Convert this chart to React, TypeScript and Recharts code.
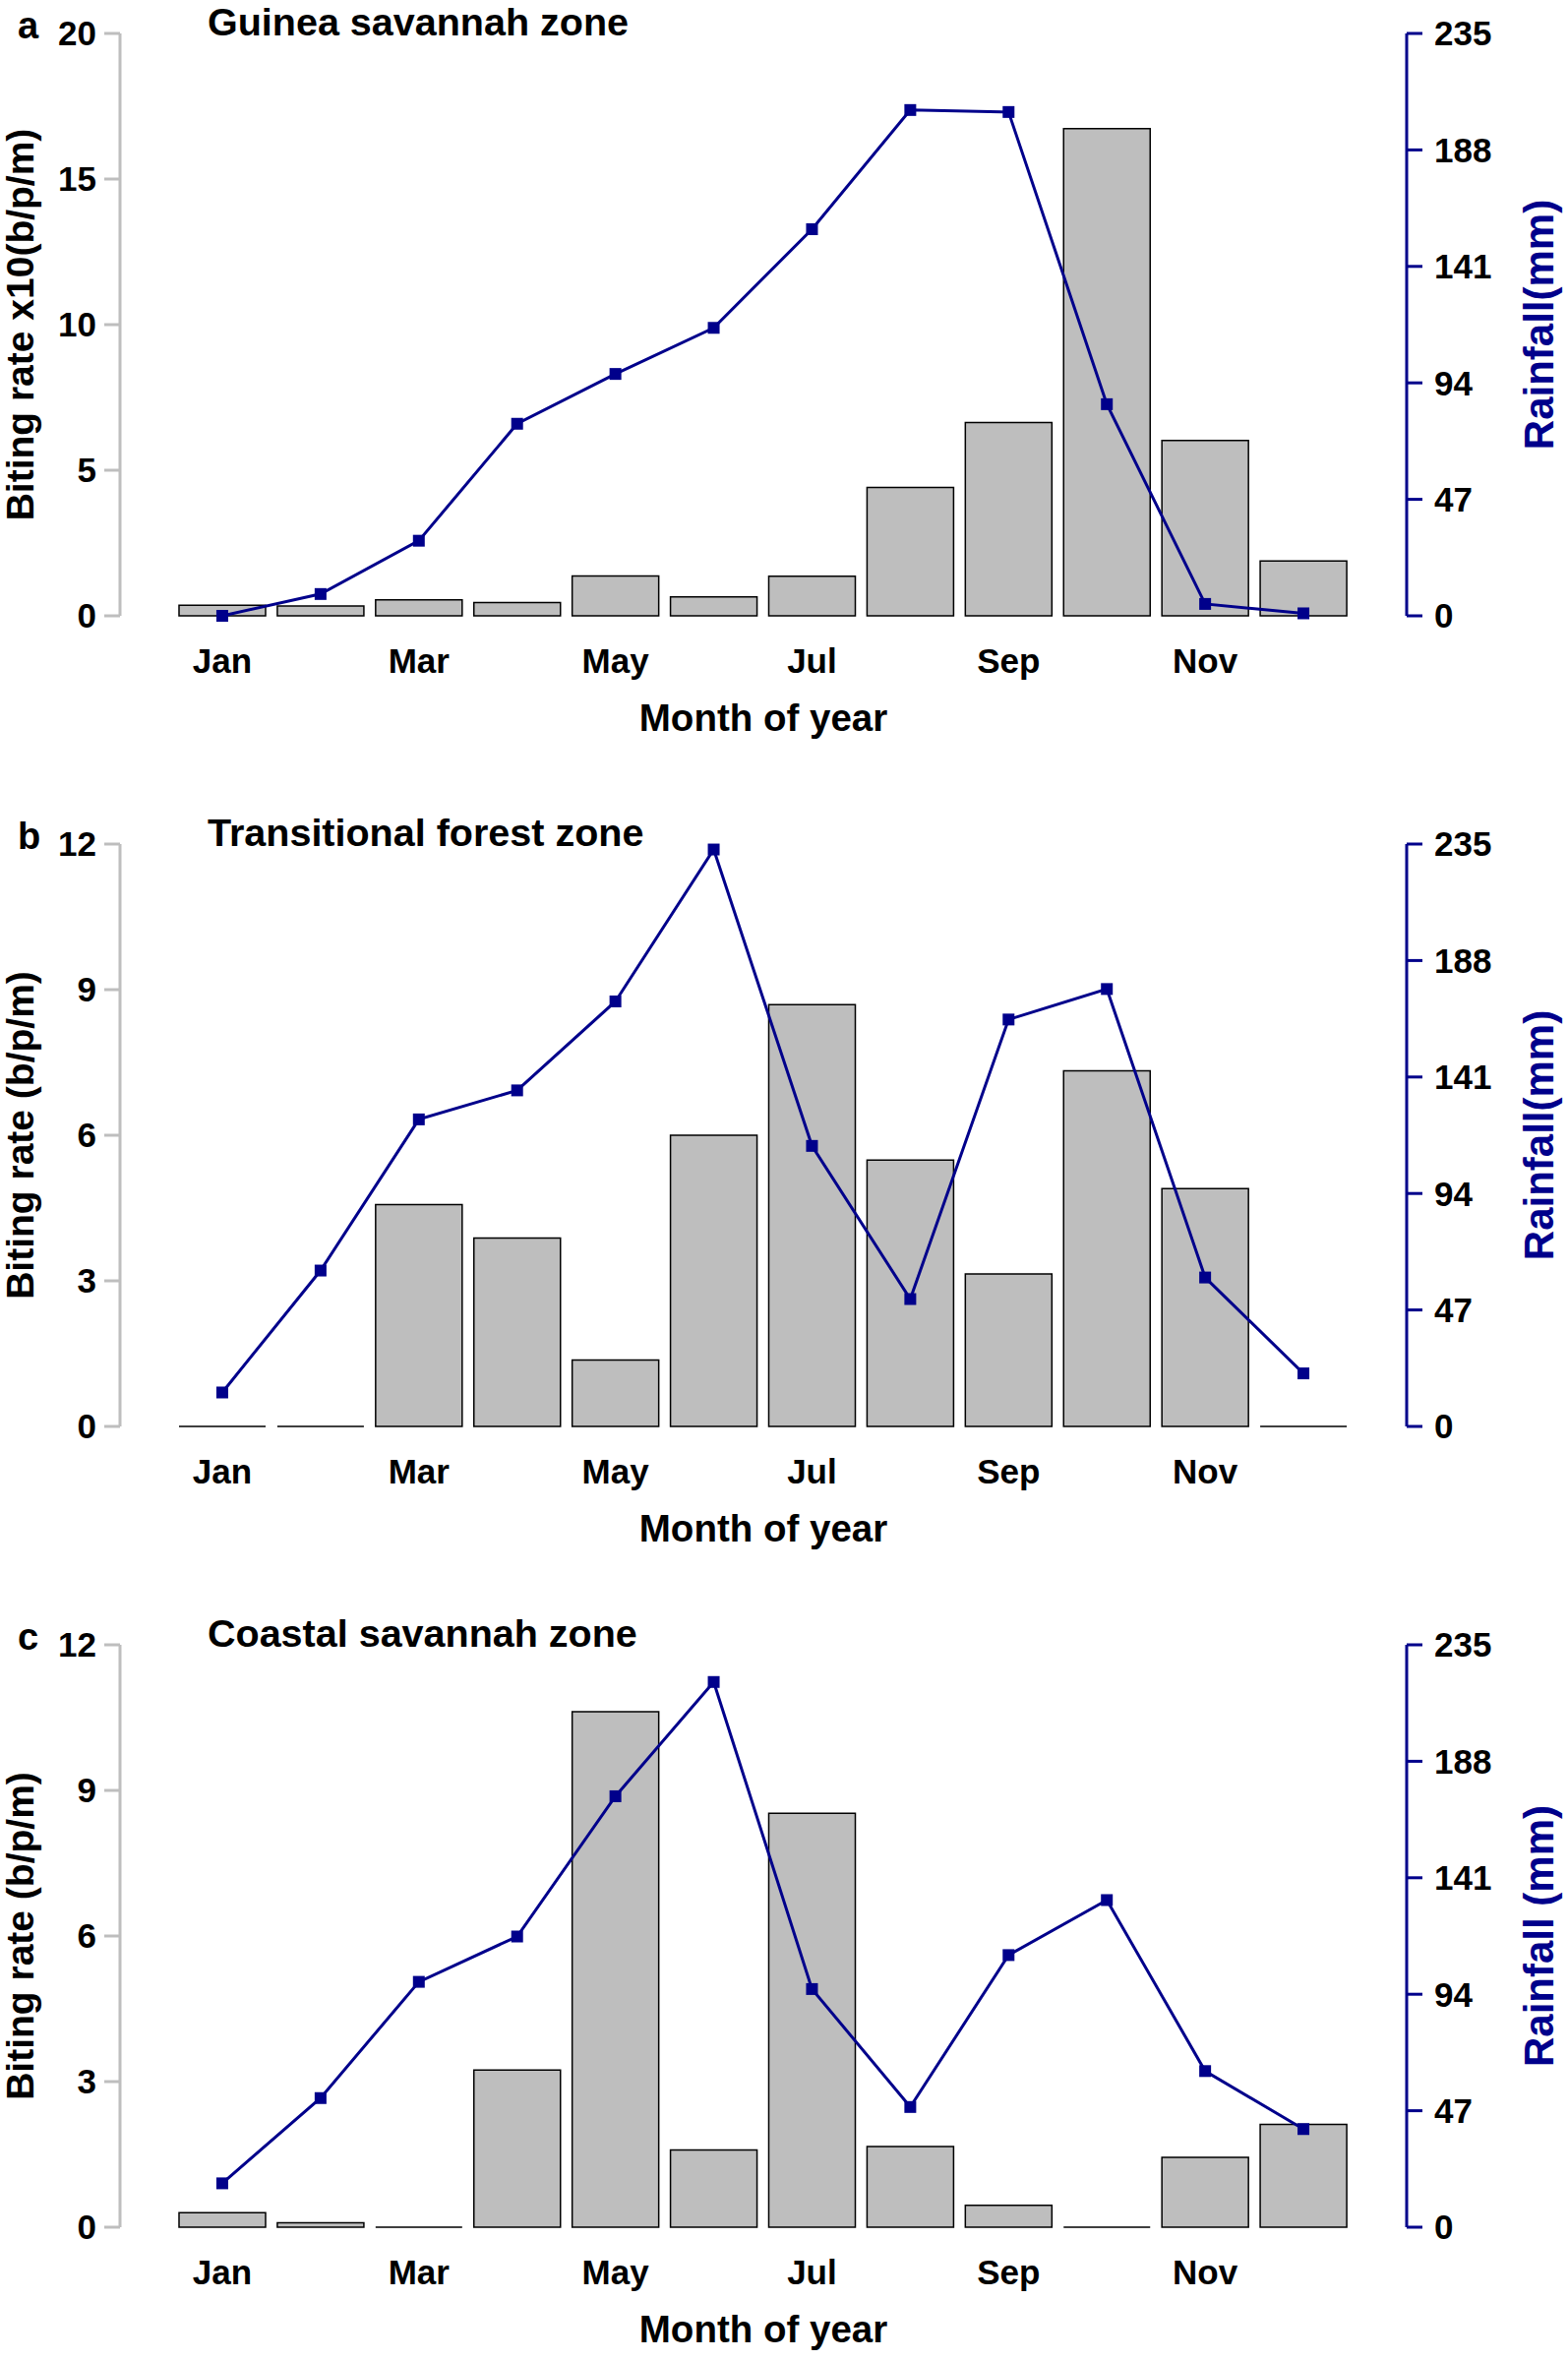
import React from "react";
import { ComposedChart, Bar, Line, XAxis, YAxis, Customized } from "recharts";

const months = ["Jan", "Feb", "Mar", "Apr", "May", "Jun", "Jul", "Aug", "Sep", "Oct", "Nov", "Dec"];

// biting rates (left axis) and rainfall in mm (right axis)
const guineaBiting = [0.36, 0.34, 0.55, 0.46, 1.37, 0.65, 1.36, 4.41, 6.64, 16.73, 6.02, 1.88];
const guineaRain = [0, 8.8, 30.3, 77.5, 97.6, 116.2, 156, 204.1, 203.3, 85.4, 4.8, 1.0];
const transBiting = [0, 0, 4.57, 3.88, 1.37, 6.0, 8.69, 5.49, 3.14, 7.33, 4.9, 0];
const transRain = [13.7, 62.9, 123.9, 135.6, 171.5, 232.8, 113.2, 51.4, 164.2, 176.5, 60.1, 21.4];
const coastBiting = [0.3, 0.09, 0, 3.24, 10.62, 1.59, 8.53, 1.66, 0.45, 0, 1.44, 2.12];
const coastRain = [17.7, 52.1, 99.0, 117.3, 173.9, 220.0, 96.1, 48.5, 109.8, 132, 63, 39.6];

const bitingTicksA = [0, 5, 10, 15, 20];
const bitingTicksBC = [0, 3, 6, 9, 12];
const rainTicks = [0, 47, 94, 141, 188, 235];

const FONT = "'Liberation Sans', Arial, sans-serif";
const NAVY = "#00008B";
const GREY = "#BEBEBE";

// layout (px)
const W = 1594;
const H = 790;
const TOP = 44;
const PLOT_H = 592;
const LEFT_AXIS_X = 122;
const RIGHT_AXIS_X = 1430;

// path instead of rect so that a zero-height bar still shows its outline
const BarShape = (props: any) => {
  const { x, y, width, height } = props;
  const h = Math.max(height || 0, 0);
  const d = `M${x},${y}h${width}v${h}h${-width}Z`;
  return <path d={d} fill={GREY} stroke="#000" strokeWidth={1.5} />;
};

const SquareDot = (props: any) => {
  const { cx, cy, index } = props;
  if (cx == null || cy == null) return null;
  return <rect key={index} x={cx - 6} y={cy - 6} width={12} height={12} fill={NAVY} />;
};

type PanelProps = {
  letter: string;
  title: string;
  biting: number[];
  rain: number[];
  bitingTicks: number[];
  leftTitle: string;
  rightTitle: string;
};

const Panel = ({ letter, title, biting, rain, bitingTicks, leftTitle, rightTitle }: PanelProps) => {
  const data = months.map((m, i) => ({ month: m, biting: biting[i], rain: rain[i] }));
  const midY = TOP + PLOT_H / 2;
  const tickStyle = { fontSize: 35, fontWeight: 700, fill: "#000", fontFamily: FONT };

  const Decor = () => (
    <g fontFamily={FONT} fontWeight={700}>
      <text x={18} y={TOP + 5} fontSize={38} fill="#000">
        {letter}
      </text>
      <text x={211} y={TOP + 2} fontSize={39.5} fill="#000">
        {title}
      </text>
      <text
        transform={`translate(34,${midY}) rotate(-90)`}
        textAnchor="middle"
        fontSize={39}
        fill="#000"
      >
        {leftTitle}
      </text>
      <text
        transform={`translate(1579,${midY}) rotate(-90)`}
        textAnchor="middle"
        fontSize={42}
        fill={NAVY}
      >
        {rightTitle}
      </text>
      <text x={776} y={TOP + PLOT_H + 117} textAnchor="middle" fontSize={38.5} fill="#000">
        Month of year
      </text>
    </g>
  );

  return (
    <ComposedChart
      width={W}
      height={H}
      data={data}
      margin={{ top: TOP, right: 0, bottom: 0, left: 0 }}
      barCategoryGap="6%"
    >
      <XAxis
        dataKey="month"
        interval={1}
        axisLine={false}
        tickLine={false}
        tickSize={0}
        tickMargin={33}
        padding={{ left: 54, right: 55 }}
        height={H - TOP - PLOT_H}
        tick={tickStyle}
      />
      <YAxis
        yAxisId="left"
        orientation="left"
        width={LEFT_AXIS_X}
        domain={[0, bitingTicks[bitingTicks.length - 1]]}
        ticks={bitingTicks}
        interval={0}
        axisLine={{ stroke: GREY, strokeWidth: 3 }}
        tickLine={{ stroke: GREY, strokeWidth: 3 }}
        tickSize={16}
        tickMargin={8}
        tick={tickStyle}
      />
      <YAxis
        yAxisId="right"
        orientation="right"
        width={W - RIGHT_AXIS_X}
        domain={[0, 235]}
        ticks={rainTicks}
        interval={0}
        axisLine={{ stroke: NAVY, strokeWidth: 3 }}
        tickLine={{ stroke: NAVY, strokeWidth: 3 }}
        tickSize={16}
        tickMargin={12}
        tick={tickStyle}
      />
      <Bar yAxisId="left" dataKey="biting" shape={BarShape} isAnimationActive={false} />
      <Line
        yAxisId="right"
        type="linear"
        dataKey="rain"
        stroke={NAVY}
        strokeWidth={3}
        dot={SquareDot}
        activeDot={false}
        isAnimationActive={false}
      />
      <Customized component={Decor} />
    </ComposedChart>
  );
};

export default function App() {
  const panels = [
    {
      top: -10,
      letter: "a",
      title: "Guinea savannah zone",
      biting: guineaBiting,
      rain: guineaRain,
      bitingTicks: bitingTicksA,
      leftTitle: "Biting rate x10(b/p/m)",
      rightTitle: "Rainfall(mm)",
    },
    {
      top: 814,
      letter: "b",
      title: "Transitional forest zone",
      biting: transBiting,
      rain: transRain,
      bitingTicks: bitingTicksBC,
      leftTitle: "Biting rate (b/p/m)",
      rightTitle: "Rainfall(mm)",
    },
    {
      top: 1628,
      letter: "c",
      title: "Coastal savannah zone",
      biting: coastBiting,
      rain: coastRain,
      bitingTicks: bitingTicksBC,
      leftTitle: "Biting rate (b/p/m)",
      rightTitle: "Rainfall (mm)",
    },
  ];

  return (
    <div style={{ position: "absolute", left: 0, top: 0, width: W, height: 2399, overflow: "hidden", background: "#fff", fontFamily: FONT }}>
      {panels.map((p) => (
        <div key={p.letter} style={{ position: "absolute", left: 0, top: p.top }}>
          <Panel {...p} />
        </div>
      ))}
    </div>
  );
}
